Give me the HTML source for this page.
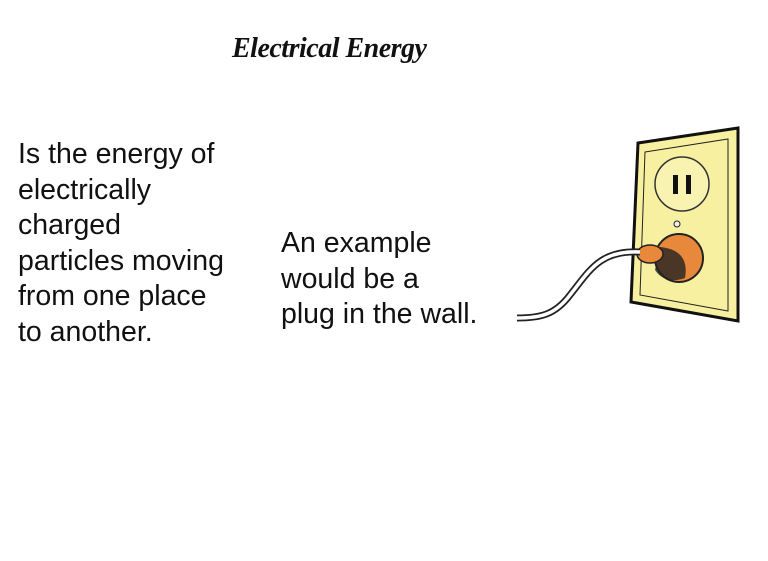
<!DOCTYPE html>
<html><head><style>
body{margin:0;width:768px;height:561px;background:#fff;position:relative;overflow:hidden;font-family:"Liberation Sans",sans-serif;color:#111}
.t{position:absolute;font-size:28.5px;line-height:35.5px}
#title{position:absolute;left:232px;top:33px;font-family:"Liberation Serif",serif;font-weight:bold;font-style:italic;font-size:28px;letter-spacing:-0.5px}
</style></head><body>
<div id="title">Electrical Energy</div>
<div class="t" style="left:18px;top:137px">Is the energy of<br>electrically<br>charged<br>particles moving<br>from one place<br>to another.</div>
<div class="t" style="left:281px;top:226px">An example<br>would be a<br>plug in the wall.</div>
<svg width="768" height="561" style="position:absolute;left:0;top:0">
<polygon points="638,143 738,128 738,321 631,302" fill="#f6f0a0" stroke="#111" stroke-width="3"/>
<polygon points="645,152 728,139 728,311 640,295" fill="none" stroke="#222" stroke-width="1"/>
<circle cx="682" cy="184" r="27" fill="#f8f3b0" stroke="#333" stroke-width="1.5"/>
<rect x="673" y="175" width="5" height="19" fill="#111"/>
<rect x="686" y="175" width="5" height="19" fill="#111"/>
<circle cx="677" cy="224" r="3" fill="#eee" stroke="#222"/>
<circle cx="679" cy="258" r="24" fill="#e8883a" stroke="#222" stroke-width="2"/>
<path d="M660,247 Q690,250 685,278 Q665,285 655,270 Z" fill="#222" opacity="0.8"/>
<ellipse cx="650" cy="254" rx="13" ry="9" fill="#e8883a" stroke="#222" stroke-width="1.5"/>
<path d="M640,252 C600,250 590,270 570,295 C555,315 540,318 517,318" fill="none" stroke="#222" stroke-width="7"/>
<path d="M640,252 C600,250 590,270 570,295 C555,315 540,318 517,318" fill="none" stroke="#fff" stroke-width="3.5"/>
</svg>
</body></html>
